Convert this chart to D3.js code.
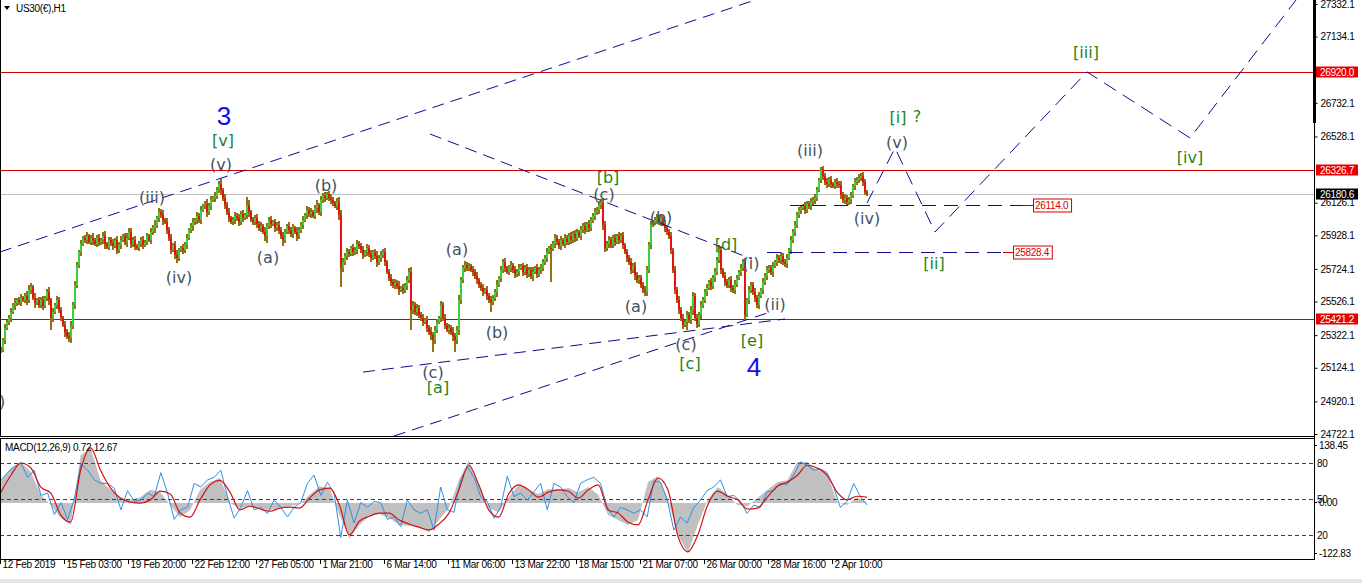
<!DOCTYPE html>
<html><head><meta charset="utf-8">
<script src="https://cdn.jsdelivr.net/npm/d3@7"></script>
<style>body{margin:0;background:#fff;overflow:hidden}svg{display:block}</style>
</head><body>
<svg id="c" width="1362" height="583"></svg>
<script>
// ---------- DATA ----------
const symbolTitle = "US30(€),H1";
const closes = [
25232,25292,25365,25402,25426,25462,25505,25517,25535,25523,
25547,25535,25559,25535,25596,25614,25547,25517,25535,25505,
25535,25499,25547,25584,25535,25426,25462,25505,25535,25474,
25426,25383,25341,25317,25304,25377,25505,25626,25747,25826,
25875,25911,25899,25924,25887,25911,25899,25875,25911,25887,
25899,25924,25875,25857,25899,25881,25863,25899,25838,25869,
25899,25924,25887,25911,25948,25875,25899,25863,25851,25875,
25899,25869,25887,25924,25899,25948,25972,25990,26033,26069,
26051,26021,26008,25960,25911,25838,25869,25808,25790,25838,
25851,25838,25869,25911,25960,25984,26008,26021,26045,26021,
26081,26106,26118,26069,26106,26142,26154,26166,26203,26239,
26203,26154,26112,26069,26033,26008,26021,26045,26033,26008,
26057,26033,26051,26112,26069,26021,26008,26033,25996,25972,
25984,25948,25924,25984,26021,25996,26008,25972,25990,25960,
25924,25899,25948,25984,25960,25936,25972,25948,25924,25960,
25990,26021,26051,26081,26057,26069,26045,26093,26112,26069,
26142,26166,26154,26178,26154,26142,26124,26106,26130,26051,
25729,25766,25802,25826,25814,25851,25826,25838,25875,25863,
25838,25808,25826,25851,25814,25790,25826,25802,25766,25790,
25808,25826,25766,25705,25668,25644,25626,25638,25620,25596,
25608,25596,25620,25656,25705,25474,25505,25462,25486,25444,
25426,25402,25414,25365,25341,25323,25292,25353,25402,25426,
25505,25426,25383,25353,25365,25341,25317,25292,25353,25535,
25656,25729,25747,25729,25741,25717,25705,25681,25656,25626,
25608,25584,25596,25559,25535,25523,25547,25584,25626,25668,
25717,25766,25729,25705,25729,25747,25717,25693,25705,25729,
25741,25705,25729,25693,25717,25681,25705,25729,25693,25717,
25729,25766,25790,25826,25851,25848,25875,25911,25887,25863,
25899,25875,25911,25887,25924,25899,25936,25911,25948,25924,
25960,25984,25960,25996,25972,26021,26045,26069,26081,26112,
26124,25990,25851,25875,25899,25869,25911,25887,25924,25899,
25924,25869,25826,25790,25766,25717,25741,25687,25656,25668,
25626,25596,25584,25717,25869,25990,26008,26021,26033,26008,
26033,25996,25972,25948,25924,25838,25717,25596,25535,25474,
25426,25383,25402,25444,25414,25474,25559,25426,25389,25444,
25505,25535,25584,25608,25644,25620,25668,25705,25778,25838,
25717,25681,25644,25626,25656,25608,25596,25632,25668,25705,
25729,25766,25444,25535,25596,25626,25584,25547,25505,25559,
25596,25644,25681,25717,25729,25705,25741,25766,25790,25778,
25802,25766,25753,25790,25838,25899,25948,25990,26051,26081,
26093,26106,26081,26118,26106,26130,26142,26154,26203,26263,
26324,26288,26251,26239,26263,26239,26227,26251,26239,26233,
26172,26142,26154,26130,26142,26166,26227,26251,26263,26276,
26288,26251,26191,26180.6];
// estimated wick length beyond the body, in points, per bar
const wickLen = [
20,15,25,10,18,22,12,30,15,20, 25,12,18,30,15,22,10,28,14,20, 18,25,12,20,30,15,22,12,26,18,
20,14,28,16,22,30,18,24,20,15, 22,12,18,26,14,20,30,12,18,24, 15,22,28,12,20,16,26,14,22,18,
25,12,18,30,14,22,16,24,12,20, 18,26,14,20,12,24,18,28,15,22, 20,30,14,24,18,26,12,22,28,16,
14,22,18,26,12,20,28,15,22,18, 24,12,20,28,16,22,14,26,18,20, 30,15,22,18,26,12,20,24,16,22,
18,26,14,22,30,12,20,16,24,18, 22,14,28,16,20,26,12,22,18,24, 16,24,20,12,26,18,22,14,28,16,
20,24,14,22,18,26,12,20,28,15, 22,16,26,12,20,24,18,14,22,30, 30,22,16,26,20,14,24,18,22,16,
20,26,14,22,18,24,12,20,28,16, 22,18,26,14,20,24,16,22,18,28, 14,22,18,26,20,30,22,16,24,18,
20,26,14,22,18,28,16,24,20,14, 26,18,22,14,24,20,28,16,22,30, 22,16,26,18,20,14,24,18,22,16,
20,26,14,22,18,24,16,20,28,14, 22,18,26,14,20,24,16,22,18,26, 14,22,18,24,16,20,28,14,22,18,
24,16,20,26,14,22,18,24,16,20, 22,14,26,18,20,24,16,22,18,14, 26,18,22,14,24,20,16,22,18,26,
24,30,22,16,26,18,20,24,14,22, 18,26,14,22,20,24,16,28,18,22, 20,16,24,26,18,22,14,20,26,18,
22,14,24,18,20,26,16,22,18,24, 20,26,14,22,18,24,28,16,22,18, 24,16,20,26,14,22,18,24,16,20,
22,14,26,18,20,24,16,22,18,14, 26,18,22,14,24,20,16,22,18,26, 14,22,18,24,16,20,28,14,22,18,
24,16,20,26,14,22,18,24,16,20, 22,14,26,18,20,24,16,22,18,14, 20,24,16,22,18,26,14,20,24,16,
22,18,24,16,20,26,14,22,18,20, 16,22,18,14];
// long wicks: [bar, extreme price]
const spikes = [[14,25626],[25,25353],[34,25280],[64,25972],[79,26093],[88,25766],[109,26251],[123,26160],[133,25881],[141,25863],[162,26185],[170,25614],[204,25729],[205,25353],[216,25220],[227,25220],[245,25462],[275,25644],[300,26142],[322,25565],[328,26039],[343,25353],[348,25371],[359,25869],[371,25766],[372,25414],[410,26337],[429,26300]];
const priceTicks = [27332.1,27134.1,26732.1,26528.1,26126.1,25928.1,25724.1,25526.1,25322.1,25124.1,24920.1,24722.1];
const redLevels = [26920.0, 26326.7, 25421.2];
const bidPrice = 26180.6;
const timeLabels = ["12 Feb 2019","15 Feb 03:00","19 Feb 20:00","22 Feb 12:00","27 Feb 05:00","1 Mar 21:00","6 Mar 14:00","11 Mar 06:00","13 Mar 22:00","18 Mar 15:00","21 Mar 07:00","26 Mar 00:00","28 Mar 16:00","2 Apr 10:00"];
const macdHist = [50,77,90,68,18,-4,-33,-48,105,121,50,29,11,7,13,29,24,-4,-31,-15,29,46,55,0,-11,-7,-13,-15,-9,-7,-2,18,37,33,-26,-77,-48,-29,-24,-33,-48,-50,-55,-64,-37,-11,50,94,40,-11,-20,13,40,29,20,31,29,33,24,35,18,-26,-37,-48,-37,46,59,7,-70,-110,-48,7,35,18,-4,-7,11,29,46,50,90,90,72,66,2,-4,13,0.72];
const macdSignal = [24,61,88,77,35,22,-26,-42,72,121,72,33,11,2,0,7,26,20,-22,-31,7,40,50,24,-15,-7,-13,-18,-11,-9,-11,11,29,33,-4,-70,-40,-29,-22,-22,-37,-46,-53,-59,-46,-22,29,83,40,-15,-31,20,40,29,13,24,29,26,11,29,40,-15,-22,-42,-48,7,55,29,-72,-107,-70,-4,26,15,7,-13,-11,13,37,46,61,83,77,61,24,7,15,12.67];
const oscLine = [66,72,77,80,68,74,53,55,37,47,33,50,79,74,66,63,63,59,41,57,48,49,55,52,72,55,33,41,43,63,60,66,68,74,52,34,43,57,41,43,38,49,43,35,43,47,63,70,53,64,55,18,49,30,47,43,48,47,33,35,27,49,41,38,41,24,60,41,39,66,77,68,52,48,34,43,69,52,55,49,56,63,41,63,60,52,47,63,66,68,63,43,35,43,41,38,41,35,65,64,50,24,35,30,43,49,57,60,66,52,53,48,38,45,43,56,57,63,62,70,81,78,74,75,72,60,43,48,63,52,45];
const macdTitle = "MACD(12,26,9) 0.72 12.67";
const macdScaleLabels = [138.45, 0.00, -122.83];
const oscLevels = [80, 50, 20];
// wave labels: [text, bar, price, kind]
const waveLabels = [
["3",111.5,26652,"num"],["[v]",111,26501,"grn"],["(v)",110,26355,"gry"],
["(iii)",75.5,26155,"gry"],["(iv)",89,25675,"gry"],["(a)",133.5,25796,"gry"],["(b)",162.5,26233,"gry"],
["(a)",228,25839,"gry"],["(b)",248,25341,"gry"],["(c)",216,25098,"gry"],["[a]",218.5,25007,"grn"],
["[b]",303.5,26282,"grn"],["(c)",301.5,26173,"gry"],["(b)",330,26039,"gry"],["(a)",317.5,25499,"gry"],
["[d]",362.5,25875,"grn"],["(i)",375,25760,"gry"],["(ii)",387,25511,"gry"],
["(c)",342.5,25268,"gry"],["[c]",344.5,25147,"grn"],["[e]",375.5,25287,"grn"],["4",376.5,25130,"num"],
["(iii)",404.5,26440,"gry"],["(iv)",433,26033,"gry"],["[i]",448.5,26646,"grn"],["?",458,26652,"grn"],
["(v)",448,26494,"gry"],["[iii]",542.5,27035,"grn"],["[iv]",594.5,26403,"grn"],["[ii]",466.5,25754,"grn"],
[")",0.5,24922,"gry"]];
// trend lines: [bar1, price1, bar2, price2]
const trendLines = [[-0.5,25827,377,27356],[181,25098,392,25420],[196.5,24710,383,25456],[214.5,26543,375.5,25784]];
const forecastPath = [[433,26124],[447,26458],[467,25948],[543,26920],[594.5,26519],[647.5,27356]];
// marked horizontal levels: [price, fromBar, toBar]
const markedLevels = [[26114.0,394.5,511],[25828.4,383,501]];

// ---------- SCALES ----------
const svg = d3.select("#c");
const AX = 1314;           // right axis line
const x = d3.scaleLinear().domain([0, 654]).range([1, 1309]);
const y = d3.scaleLinear().domain([24722.1, 27332.1]).range([434, 4]);
const yM = d3.scaleLinear().domain([-122.83, 138.45]).range([559, 440]);
const yL = d3.scaleLinear().domain([0, 100]).range([559, 439]);
const N = closes.length;

const defs = svg.append("defs");
defs.append("clipPath").attr("id","mc").append("rect").attr("x",1).attr("y",0).attr("width",AX-1).attr("height",436);
defs.append("clipPath").attr("id","ic").append("rect").attr("x",1).attr("y",439).attr("width",AX-1).attr("height",120);

const axisFont = "'Liberation Sans', Arial, sans-serif";
const main = svg.append("g").attr("clip-path","url(#mc)");

// red horizontal levels & bid line
main.selectAll("line.lv").data(redLevels).join("line")
  .attr("x1",0).attr("x2",AX).attr("y1",d=>Math.round(y(d))+0.5).attr("y2",d=>Math.round(y(d))+0.5)
  .attr("stroke","#d40000").attr("stroke-width",1);
main.append("line").attr("x1",0).attr("x2",AX)
  .attr("y1",Math.round(y(bidPrice))+0.5).attr("y2",Math.round(y(bidPrice))+0.5)
  .attr("stroke","#c0c0c0");

// candles
const bars = closes.map((c,i)=>{const o = i ? closes[i-1] : c; const w = wickLen[i]||0;
  return {i,o,c,hi:Math.max(o,c)+w,lo:Math.min(o,c)-w};});
spikes.forEach(([i,p])=>{bars[i].hi=Math.max(bars[i].hi,p); bars[i].lo=Math.min(bars[i].lo,p);});
const cg = main.append("g").attr("shape-rendering","crispEdges");
cg.append("g").selectAll("rect").data(bars).join("rect")
  .attr("x",d=>Math.round(x(d.i))-1).attr("width",2)
  .attr("y",d=>y(d.hi)).attr("height",d=>Math.max(1,y(d.lo)-y(d.hi)))
  .attr("fill","#957018");
cg.append("g").selectAll("rect").data(bars).join("rect")
  .attr("x",d=>Math.round(x(d.i))-1).attr("width",2)
  .attr("y",d=>y(Math.max(d.o,d.c))).attr("height",d=>Math.max(1,Math.abs(y(d.o)-y(d.c))))
  .attr("fill",d=>d.c>=d.o?"#3ccf3c":"#e81010");

// trend lines
const navy = "#0c0c8c";
main.selectAll("line.tl").data(trendLines).join("line")
  .attr("x1",d=>x(d[0])).attr("y1",d=>y(d[1])).attr("x2",d=>x(d[2])).attr("y2",d=>y(d[3]))
  .attr("stroke",navy).attr("stroke-width",1).attr("stroke-dasharray","12,7");
main.append("path").datum(forecastPath)
  .attr("d",d3.line().x(d=>x(d[0])).y(d=>y(d[1])))
  .attr("fill","none").attr("stroke",navy).attr("stroke-width",1).attr("stroke-dasharray","14,8");

// marked levels
markedLevels.forEach(([p,b1,b2])=>{
  const yy = Math.round(y(p))+0.5;
  main.append("line").attr("x1",x(b1)).attr("x2",x(b2)).attr("y1",yy).attr("y2",yy)
    .attr("stroke",navy).attr("stroke-dasharray","14,8");
  main.append("line").attr("x1",x(b2)).attr("x2",x(b2)+10).attr("y1",yy).attr("y2",yy).attr("stroke","#d40000");
  const t = main.append("text").attr("x",x(b2)+12).attr("y",yy).attr("dy","0.35em")
    .attr("font-family",axisFont).attr("font-size",10).attr("letter-spacing","-0.3px")
    .attr("fill","#d40000").text(p.toFixed(1));
  const bb = t.node().getBBox();
  main.insert("rect","text:last-of-type").attr("x",x(b2)+10.5).attr("y",yy-6.5).attr("width",bb.width+4).attr("height",13)
    .attr("fill","#fff").attr("stroke","#d40000");
  t.raise();
});

// wave labels
const lblStyle = {
  gry:{fill:"#44515e",size:16,fam:"'DejaVu Sans', Verdana, sans-serif"},
  grn:{fill:"#1e851e",size:16,fam:"'DejaVu Sans', Verdana, sans-serif"},
  num:{fill:"#1010e8",size:26,fam:"'Liberation Sans', Arial, sans-serif"}};
main.selectAll("text.wl").data(waveLabels).join("text")
  .attr("x",d=>x(d[1])).attr("y",d=>y(d[2])).attr("text-anchor","middle").attr("dominant-baseline","central")
  .attr("font-family",d=>lblStyle[d[3]].fam).attr("font-size",d=>lblStyle[d[3]].size)
  .attr("fill",d=>lblStyle[d[3]].fill).text(d=>d[0]);

// title
svg.append("path").attr("d","M4,6 L10,6 L7,10 Z").attr("fill","#000");
svg.append("text").attr("x",16).attr("y",8).attr("dy","0.35em").attr("font-family",axisFont)
  .attr("font-size",10).attr("letter-spacing","-0.3px").attr("fill","#000").text(symbolTitle);

// ---------- MACD panel ----------
const ind = svg.append("g").attr("clip-path","url(#ic)");
const bx = (j,len)=> x(j*(N-1)/(len-1));
ind.append("path").datum(macdHist)
  .attr("d",d3.area().x((d,j)=>bx(j,macdHist.length)).y0(yM(0)).y1(d=>yM(d)))
  .attr("fill","#c0c0c0");
ind.selectAll("line.lev").data(oscLevels).join("line")
  .attr("x1",0).attr("x2",AX).attr("y1",d=>Math.round(yL(d))+0.5).attr("y2",d=>Math.round(yL(d))+0.5)
  .attr("stroke","#b01010").attr("stroke-dasharray","4,3");
ind.append("path").datum(oscLine)
  .attr("d",d3.line().x((d,j)=>bx(j,oscLine.length)).y(d=>yL(d)))
  .attr("fill","none").attr("stroke","#2f8fe6").attr("stroke-width",1);
ind.append("path").datum(macdSignal)
  .attr("d",d3.line().curve(d3.curveMonotoneX).x((d,j)=>bx(j,macdSignal.length)).y(d=>yM(d)))
  .attr("fill","none").attr("stroke","#d41010").attr("stroke-width",1.2);
svg.append("text").attr("x",5).attr("y",447).attr("dy","0.35em").attr("font-family",axisFont)
  .attr("font-size",10).attr("letter-spacing","-0.3px").attr("fill","#000").text(macdTitle);

// frames
const fr = svg.append("g").attr("fill","none").attr("stroke","#000").attr("shape-rendering","crispEdges");
fr.append("line").attr("x1",0.5).attr("x2",0.5).attr("y1",0).attr("y2",437);
fr.append("line").attr("x1",0).attr("x2",AX).attr("y1",436.5).attr("y2",436.5);
fr.append("rect").attr("x",0.5).attr("y",438.5).attr("width",AX).attr("height",121);
fr.append("line").attr("x1",AX+0.5).attr("x2",AX+0.5).attr("y1",0).attr("y2",560);
svg.append("rect").attr("x",AX-1).attr("y",0).attr("width",3).attr("height",123).attr("fill","#000");

// price axis
const pa = svg.append("g").attr("transform",`translate(${AX+0.5},0)`)
  .call(d3.axisRight(y).tickValues(priceTicks).tickSize(3).tickPadding(3).tickFormat(d3.format(".1f")));
pa.select(".domain").remove();
pa.selectAll("text").attr("font-family",axisFont).attr("font-size",10).attr("letter-spacing","-0.3px").attr("fill","#000");
pa.selectAll("line").attr("stroke","#000");
// level boxes on axis
const boxes = redLevels.map(v=>({v,bg:"#e80000"})).concat([{v:bidPrice,bg:"#000"}]);
const bg = svg.append("g");
boxes.forEach(b=>{
  const yy = Math.round(y(b.v));
  bg.append("rect").attr("x",AX+2).attr("y",yy-5.5).attr("width",42).attr("height",11).attr("fill",b.bg);
  bg.append("text").attr("x",AX+6).attr("y",yy).attr("dy","0.35em").attr("font-family",axisFont)
    .attr("font-size",10).attr("letter-spacing","-0.3px").attr("fill","#fff").text(b.v.toFixed(1));
});

// MACD axis
const ma = svg.append("g").attr("font-family",axisFont).attr("font-size",10).attr("letter-spacing","-0.3px");
const mOff = v => v===macdScaleLabels[0] ? 5 : (v===macdScaleLabels[2] ? -6 : -1);
ma.selectAll("text.m").data(macdScaleLabels).join("text")
  .attr("x",AX+5).attr("y",d=>yM(d)+mOff(d)).attr("dy","0.35em").text(d=>d.toFixed(2));
ma.selectAll("text.l").data(oscLevels).join("text")
  .attr("x",AX+3).attr("y",d=>yL(d)).attr("dy","0.35em").text(d=>d);
ma.selectAll("line.t").data(macdScaleLabels).join("line")
  .attr("x1",AX).attr("x2",AX+3).attr("y1",d=>Math.round(yM(d)+mOff(d))+0.5).attr("y2",d=>Math.round(yM(d)+mOff(d))+0.5).attr("stroke","#000");

// time axis
const tb = timeLabels.map((t,k)=>k*32-0.5);
const ta = svg.append("g").attr("transform","translate(0,560)")
  .call(d3.axisBottom(x).tickValues(tb).tickSize(4).tickPadding(3).tickFormat((d,k)=>timeLabels[k]));
ta.select(".domain").remove();
ta.selectAll("text").attr("text-anchor","start").attr("dx","2").attr("dy","0.05em")
  .attr("font-family",axisFont).attr("font-size",10).attr("letter-spacing","-0.3px").attr("fill","#000");
ta.selectAll("line").attr("stroke","#000");
svg.append("rect").attr("x",0).attr("y",579).attr("width",1362).attr("height",4).attr("fill","#e6e6e6");
</script>
</body></html>
